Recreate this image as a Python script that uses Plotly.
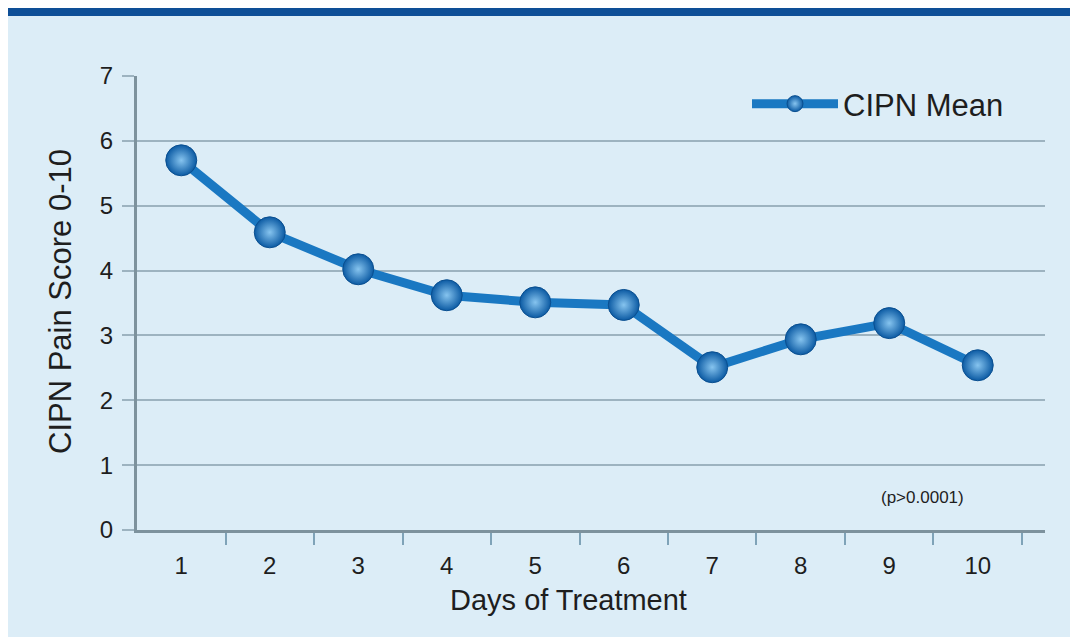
import plotly.graph_objects as go

days = [1, 2, 3, 4, 5, 6, 7, 8, 9, 10]
day_labels = ["1", "2", "3", "4", "5", "6", "7", "8", "9", "10"]
cipn_mean = [5.70, 4.59, 4.02, 3.62, 3.51, 3.47, 2.51, 2.94, 3.19, 2.54]
y_ticks = [0, 1, 2, 3, 4, 5, 6, 7]
between_ticks = [1.5, 2.5, 3.5, 4.5, 5.5, 6.5, 7.5, 8.5, 9.5, 10.5]

# page body has an 8px margin; work in page pixels and convert
OX, OY = 8, 8
W, H = 1078 - OX, 637 - OY
L, R, T, B = 137, 1045, 76, 530
pw, ph = R - L, B - T

def px(x):
    return (x - L) / pw

def py(y):
    return (B - y) / ph

panel = "#dcedf7"
grid = "#9db3c0"
axis_c = "#7d929d"
line_c = "#1a78c2"
txt = "#1e1e1e"
font = "Liberation Sans, Arial, sans-serif"

fig = go.Figure()
fig.add_trace(go.Scatter(
    x=days, y=cipn_mean, mode="lines+markers", name="CIPN Mean",
    line=dict(color=line_c, width=9),
    marker=dict(size=31, color="#0b5aa3",
                gradient=dict(type="radial", color="#86c4ef"),
                line=dict(width=1, color="#0a4f90")),
))

fig.update_layout(
    width=W, height=H,
    margin=dict(l=L - OX, r=1078 - R, t=T - OY, b=637 - B, pad=0),
    paper_bgcolor=panel, plot_bgcolor=panel,
    font=dict(family=font, color=txt),
    showlegend=True,
    legend=dict(x=px(747), y=py(104), xanchor="left", yanchor="middle",
                bgcolor="rgba(0,0,0,0)", font=dict(size=31, color=txt),
                itemwidth=86, itemsizing="trace"),
    xaxis=dict(
        range=[0.5, 10.76], tickmode="array", tickvals=days, ticktext=day_labels,
        ticks="", showgrid=False, zeroline=False,
        showline=True, linecolor=axis_c, linewidth=3,
        tickfont=dict(size=24, color=txt), ticklabelstandoff=12,
        minor=dict(tickmode="array", tickvals=between_ticks, ticks="outside",
                   ticklen=12, tickwidth=1.5, tickcolor="#7fa3b8", showgrid=False),
    ),
    yaxis=dict(
        range=[0, 7], tickmode="array", tickvals=y_ticks,
        showgrid=True, gridcolor=grid, gridwidth=2, zeroline=False,
        showline=True, linecolor=axis_c, linewidth=3,
        ticks="outside", ticklen=12, tickwidth=2, tickcolor=grid,
        tickfont=dict(size=24, color=txt), ticklabelstandoff=4,
    ),
    shapes=[
        dict(type="rect", xref="paper", yref="paper", x0=px(OX), x1=px(1078), y0=py(16), y1=py(OY),
             fillcolor="#0e4f97", line=dict(width=0), layer="below"),
    ],
    annotations=[
        dict(text="(p>0.0001)", xref="paper", yref="paper", x=px(922), y=py(497),
             xanchor="center", yanchor="middle",
             showarrow=False, font=dict(size=17, color=txt)),
        dict(text="Days of Treatment", xref="paper", yref="paper", x=px(568), y=py(600),
             xanchor="center", yanchor="middle",
             showarrow=False, font=dict(size=29, color=txt)),
        dict(text="CIPN Pain Score 0-10", xref="paper", yref="paper", x=px(60), y=py(302),
             xanchor="center", yanchor="middle", textangle=-90,
             showarrow=False, font=dict(size=31, color=txt)),
    ],
)

fig.write_html("out.html")
